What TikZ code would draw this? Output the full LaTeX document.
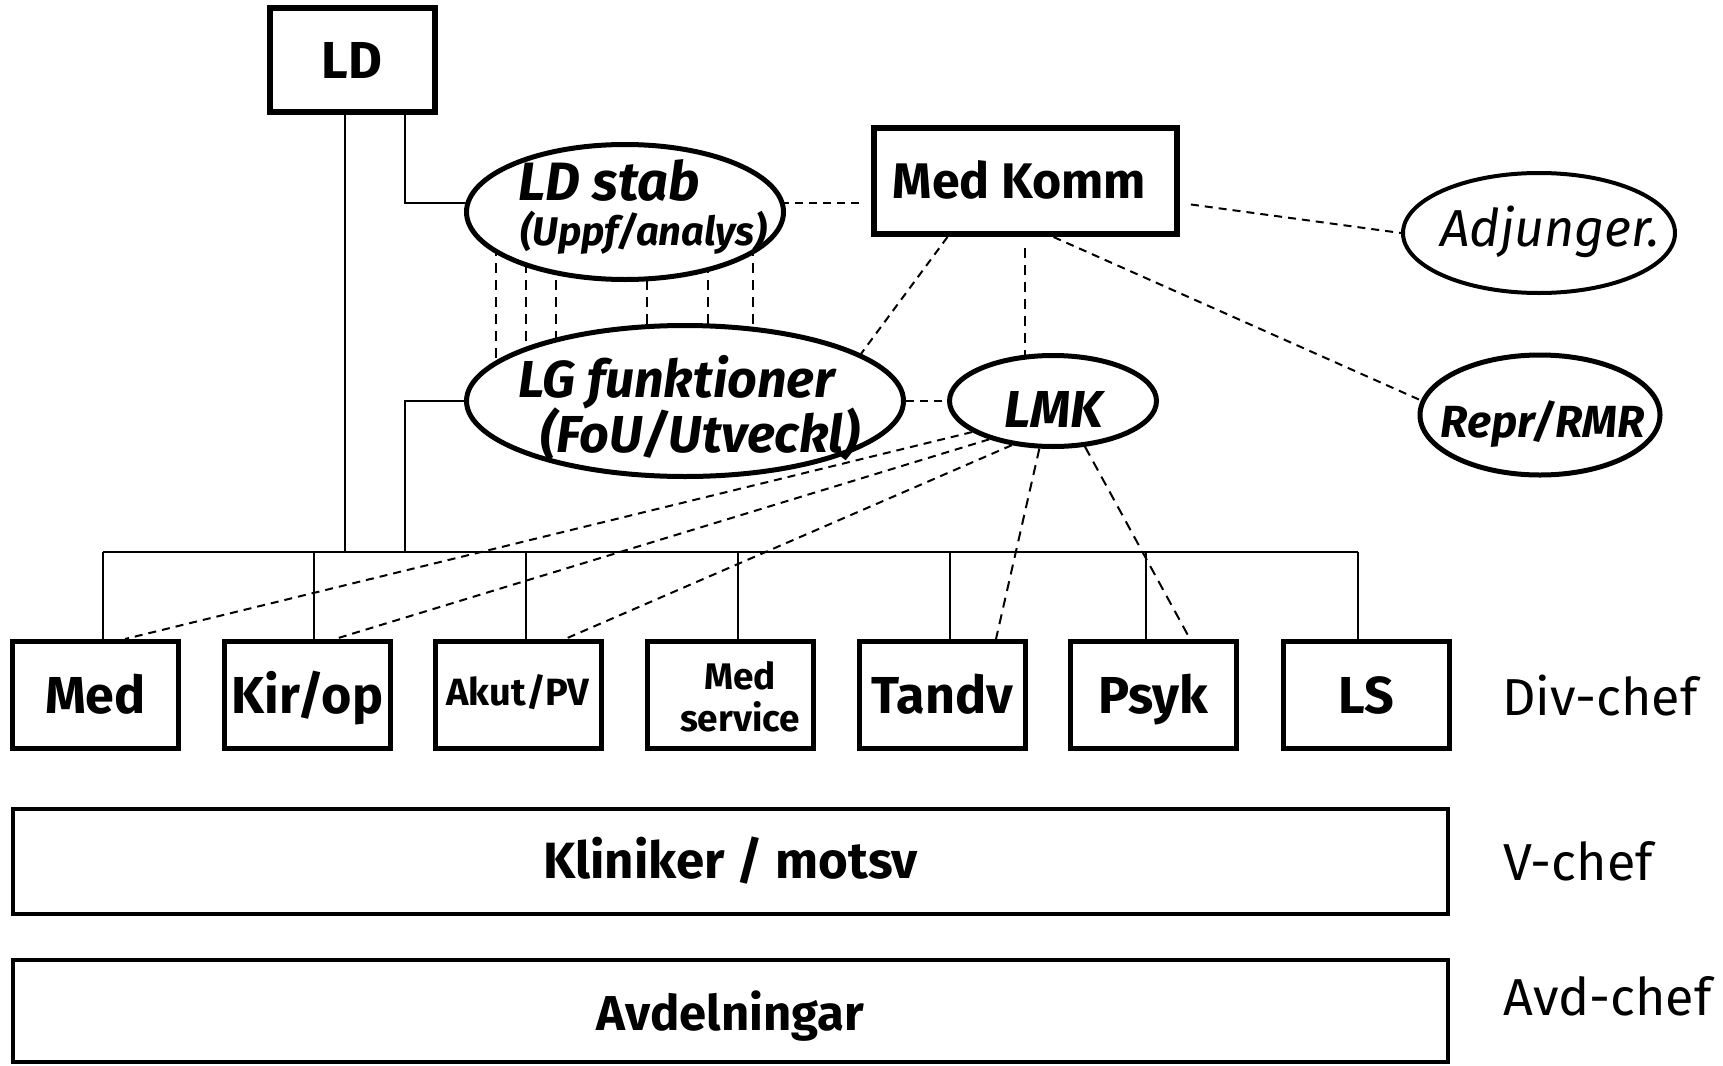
\documentclass[tikz,border=0pt]{standalone}
\usepackage{fontspec}
\setmainfont{Fira Sans}
\usetikzlibrary{shapes.geometric,backgrounds,calc}
\newcommand{\fsz}[1]{\fontsize{#1pt}{#1pt}\selectfont}
\begin{document}
\begin{tikzpicture}[x=1pt,y=-1pt,
  conn/.style={line width=2pt},
  dsh/.style={line width=2pt, dash pattern=on 8pt off 6pt},
  ldsh/.style={line width=2pt, dash pattern=on 10pt off 7pt},
  topbox/.style={draw, line width=6pt, inner sep=0pt, fill=white, font=\fsz{52}\bfseries, text height=36pt, text depth=0pt},
  divbox/.style={draw, line width=5pt, minimum width=166pt, minimum height=107pt, inner sep=0pt, fill=white, font=\fsz{52}\bfseries, text height=36pt, text depth=0pt},
  oval/.style={draw, ellipse, line width=5pt, inner sep=0pt, fill=white},
  bar/.style={draw, line width=4pt, minimum width=1435pt, inner sep=0pt, fill=white, font=\fsz{51}\bfseries, text depth=0pt},
  ovtext/.style={anchor=base west, inner sep=0pt, font=\fsz{#1}\bfseries\itshape},
  side/.style={anchor=base west, inner sep=0pt, font=\fsz{52}},
]
\useasboundingbox (0,0) rectangle (1723,1065);

% top level
\node[topbox, minimum width=165pt, minimum height=104pt] (ld) at (352,60) {LD};
\node[topbox, minimum width=303pt, minimum height=106pt, font=\fsz{50}\bfseries, text height=35pt] (medkomm) at (1025.5,181) {Med Komm\hspace*{12pt}};

% ellipses
\node[oval, minimum width=317pt, minimum height=135pt] (ldstab) at (625,212) {};
\node[oval, minimum width=437pt, minimum height=151pt] (lg) at (685,401) {};
\node[oval, minimum width=207pt, minimum height=91pt] (lmk) at (1053,401) {};
\node[oval, line width=4pt, minimum width=272pt, minimum height=120pt] (adj) at (1539,233) {};
\node[oval, minimum width=240pt, minimum height=120pt] (repr) at (1540,415) {};

\node[ovtext=54] (ldstabA) at (518,200) {LD stab};
\node[ovtext=40] (ldstabB) at (520,245) {(Uppf/analys)};
\node[ovtext=52] (lgA) at (518,397) {LG funktioner};
\node[ovtext=52] (lgB) at (540,452) {(FoU/Utveckl)};
\node[ovtext=52, anchor=base] (lmkT) at (1054,427) {LMK};
\node[anchor=base, inner sep=0pt, font=\fsz{52}\itshape] (adjT) at (1550,246) {Adjunger.};
\node[ovtext=45, anchor=base] (reprT) at (1543,437) {Repr/RMR};

% division boxes
\node[divbox] (med) at (95.5,695) {Med};
\node[divbox] (kir) at (307.5,695) {Kir/op};
\node[divbox, font=\fsz{38}\bfseries, text height=20pt] (akut) at (518,695) {Akut/PV};
\node[divbox] (medsvc) at (730,695) {};
\node[align=center, inner sep=0pt, font=\fsz{37}\bfseries] (medsvcT) at (740,697) {Med\\[5pt]service};
\node[divbox] (tandv) at (942,695) {Tandv};
\node[divbox] (psyk) at (1153.5,695) {Psyk};
\node[divbox] (ls) at (1366,695) {LS};

% bars
\node[bar, minimum height=105pt, text height=33pt] (klin) at (730.5,861.5) {Kliniker / motsv};
\node[bar, minimum height=102pt, text height=38pt, font=\fsz{49}\bfseries] (avd) at (730.5,1011) {Avdelningar};

% side labels
\node[side] (divchef) at (1502,715) {Div-chef};
\node[side] (vchef) at (1503,880) {V-chef};
\node[side] (avdchef) at (1503,1015) {Avd-chef};

\coordinate (busL) at (103,552);
\coordinate (busR) at (1358,552);

\begin{scope}[on background layer]
  \fill[white] (0,0) rectangle (1723,1065);
  % solid tree
  \draw[conn] ([xshift=-7pt]ld.south) -- ([xshift=-7pt]ld.south |- busL);
  \draw[conn] ([xshift=53pt]ld.south) |- ([yshift=9pt]ldstab.center);
  \draw[conn] (lg.center) -| ([xshift=53pt]ld.south |- busL);
  \draw[conn] (busL) -- (busR);
  \foreach \n/\s in {med/7.5, kir/6.5, akut/7.5, medsvc/8, tandv/8, psyk/-7.5, ls/-8}
    \draw[conn] ([xshift=\s pt]\n.north) -- ([xshift=\s pt]\n.north |- busL);
  % dashed relations
  \draw[dsh, shorten <=12pt] ([yshift=-22pt]medkomm.west) -- ([yshift=-22pt]medkomm.west -| ldstab.center);
  \draw[dsh] ([xshift=-78pt]medkomm.south) -- (lg.15.5);
  \draw[ldsh, shorten <=11pt] ([xshift=-0.5pt]medkomm.south) -- ([xshift=-0.5pt]medkomm.south |- lmk.center);
  \draw[dsh, shorten <=11pt] ([yshift=-22pt]medkomm.east) -- (adj.west);
  \draw[dsh] ([xshift=28pt]medkomm.south) -- (repr.173);
  \draw[dsh] (lg.east) -- (lmk.west);
  \draw[dsh] (lmk.201) -- ([xshift=29.5pt]med.north);
  \draw[dsh] (lmk.211) -- ([xshift=27.5pt]kir.north);
  \draw[dsh] (lmk.227.7) -- ([xshift=47pt]akut.north);
  \draw[ldsh] (lmk.254.5) -- ([xshift=54pt]tandv.north);
  \draw[ldsh] (lmk.305.5) -- ([xshift=36.5pt]psyk.north);
  \foreach \dx in {-129.5,-99,-69,22,82.6,128}
    \draw[ldsh] ([xshift=\dx pt]ldstab.center) -- ([xshift=\dx pt]ldstab.center |- lg.center);
\end{scope}
\end{tikzpicture}
\end{document}
